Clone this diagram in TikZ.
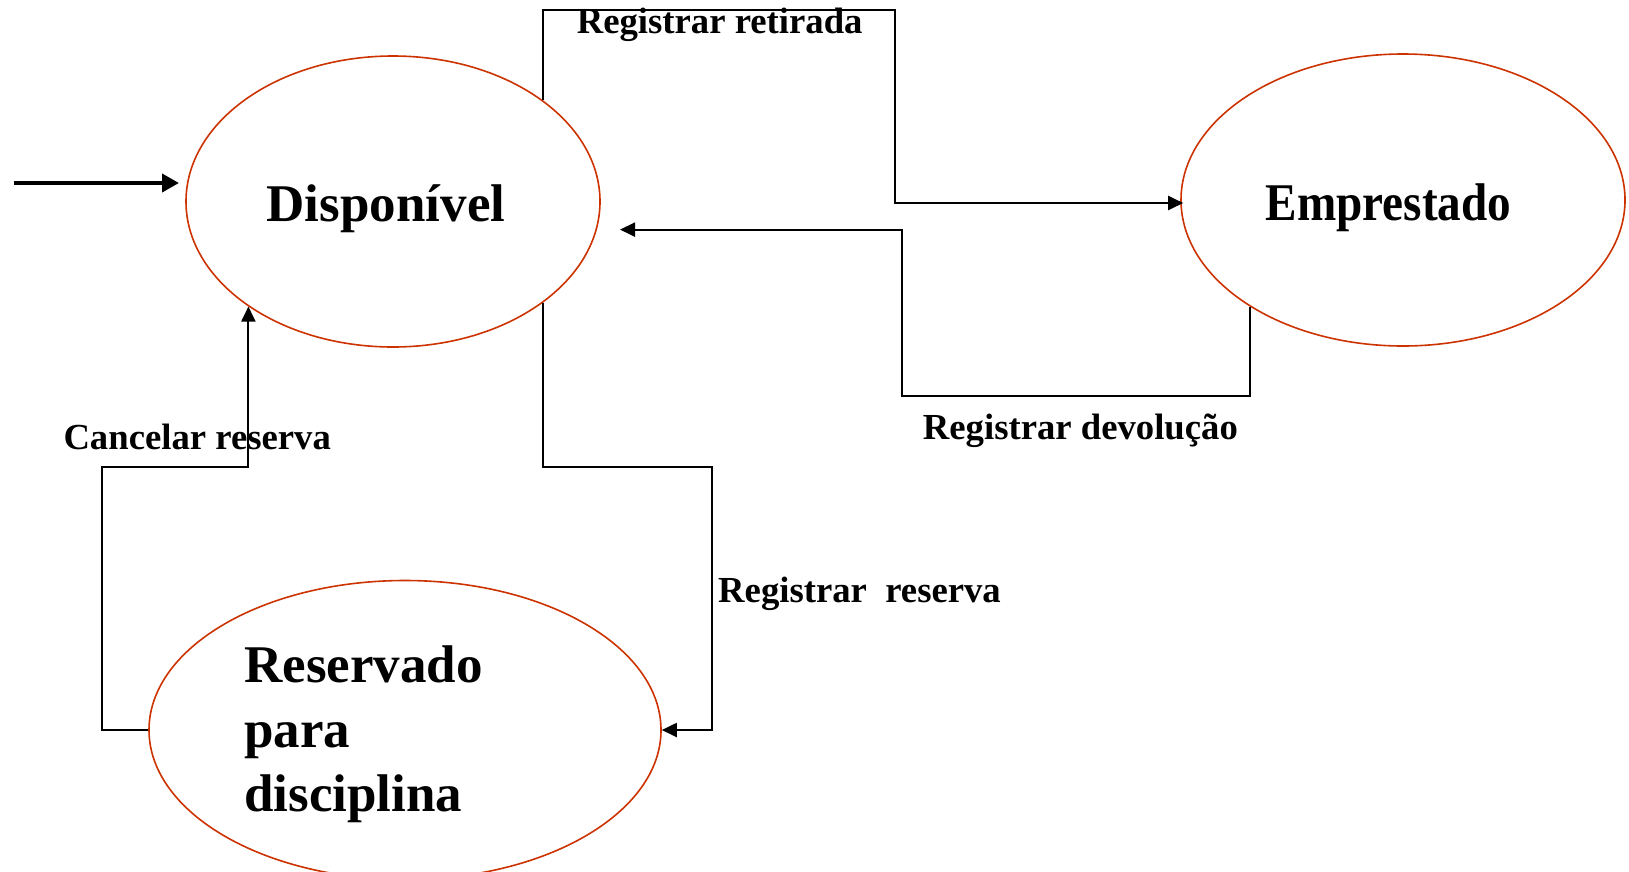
\documentclass[tikz,border=0pt]{standalone}
\usepackage{fontspec}
\setmainfont{Liberation Serif}
\usetikzlibrary{shapes.geometric,arrows.meta}
\definecolor{stateline}{RGB}{204,51,0}
\begin{document}
\begin{tikzpicture}[x=1pt,y=-1pt,
  state/.style={ellipse,draw=stateline,line width=1.6pt,inner sep=0pt},
  conn/.style={draw=black,line width=2pt,-{Triangle[length=15pt,width=14pt]}},
  initarrow/.style={draw=black,line width=4pt,-{Triangle[length=17pt,width=18pt]}},
  bigtext/.style={font=\bfseries\fontsize{53}{64.5}\selectfont,inner sep=0pt},
  lbl/.style={font=\bfseries\fontsize{36.7}{44}\selectfont,inner sep=0pt,anchor=base west}]
\useasboundingbox (0,0) rectangle (1629,871);

% states
\node[state,minimum width=414pt,minimum height=291pt] (disp) at (393,201.5) {};
\node[state,minimum width=444pt,minimum height=292pt] (emp) at (1403,200) {};
\node[state,minimum width=512pt,minimum height=299pt] (res) at (405,730) {};

% state names
\node[bigtext,anchor=base] (dispt) at (386,221) {Disponível};
\node[bigtext,anchor=base,xscale=0.89] (empt) at (1388.5,220) {Emprestado};
\node[bigtext,anchor=north west,align=left] (rest) at (244,646) {Reservado\\para\\disciplina};

% transition labels
\node[lbl] (lret) at (576.6,33.5) {Registrar retirada};
\node[lbl] (ldev) at (922.7,439) {Registrar devolução};
\node[lbl] (lcan) at (63.3,449) {Cancelar reserva};
\node[lbl] (lrsv) at (718,602) {Registrar\ \ reserva};

% initial state marker
\coordinate (initS) at (13.5,183);
\coordinate (initE) at (179,183);
\draw[initarrow] (initS) -- (initE);

% bend points of the transitions
\coordinate (ret1) at (894.5,9.5);
\coordinate (dev1) at (901.8,395.8);
\coordinate (devE) at (620,229.6);
\coordinate (rsv1) at (711.6,466.5);
\coordinate (can1) at (101.8,466.5);

% transitions
\draw[conn] (disp.34.3) |- (ret1) |- ([xshift=3pt,yshift=-3pt]emp.west);
\draw[conn] (emp.215.2) |- (dev1) |- (devE);
\draw[conn] (disp.326) |- (rsv1) |- (res.east);
\draw[conn] (res.west) -| (can1) -| (disp.216.4);
\end{tikzpicture}
\end{document}
